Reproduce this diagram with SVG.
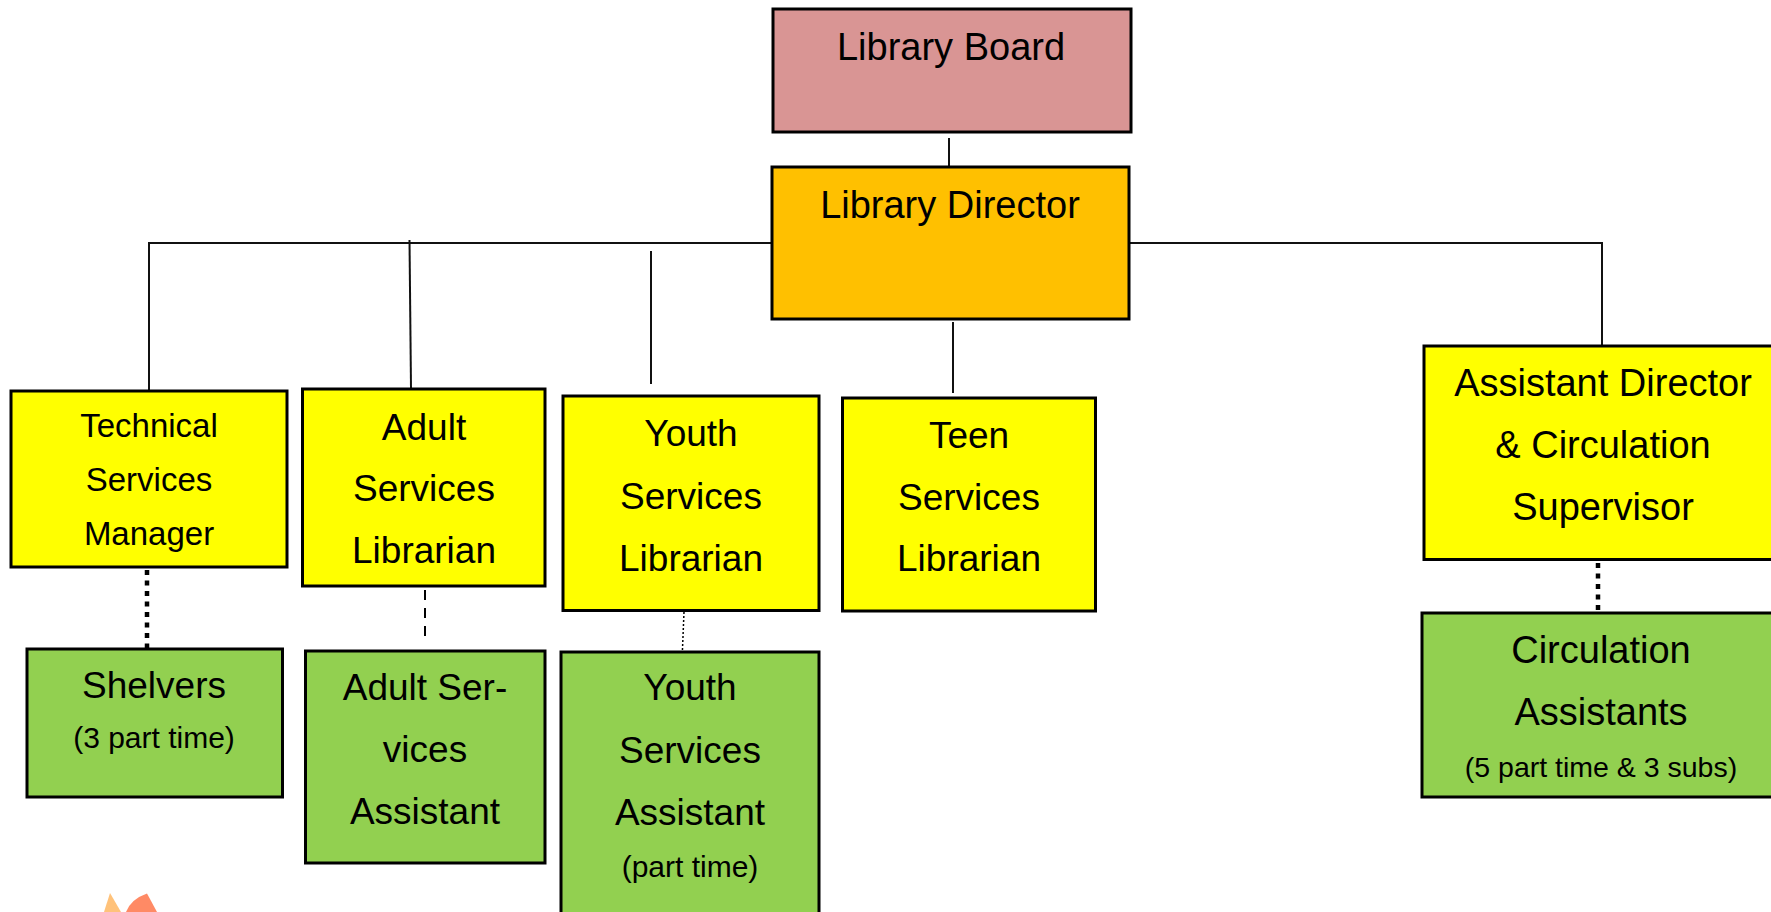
<svg xmlns="http://www.w3.org/2000/svg" width="1771" height="912" viewBox="0 0 1771 912">
<style>
  .box { stroke: #000; stroke-width: 3; }
  .board { fill: #D99594; }
  .dir { fill: #FFC000; }
  .yel { fill: #FFFF00; }
  .grn { fill: #92D050; }
  text { font-family: "Liberation Sans", Arial, sans-serif; fill: #000; text-anchor: middle; }
  .t38 { font-size: 38px; }
  .t37 { font-size: 37px; }
  .t32 { font-size: 33px; }
  .t30 { font-size: 30px; }
  .t27 { font-size: 28.5px; }
  .conn { stroke: #111; stroke-width: 2; fill: none; }
  .dotsq { stroke: #000; stroke-width: 4.5; stroke-dasharray: 5 5.5; fill: none; }
  .dash { stroke: #000; stroke-width: 2; stroke-dasharray: 10 8; fill: none; }
  .fine { stroke: #000; stroke-width: 1.5; stroke-dasharray: 2 2; fill: none; }
</style>
<rect width="1771" height="912" fill="#FFFFFF"/>

<g id="connectors">
  <line class="conn" x1="949" y1="138" x2="949" y2="167"/>
  <polyline class="conn" points="149,390 149,243 771,243"/>
  <polyline class="conn" points="1128,243 1602,243 1602,345"/>
  <line class="conn" x1="409.5" y1="240" x2="411" y2="388"/>
  <line class="conn" x1="651" y1="251" x2="651" y2="384"/>
  <line class="conn" x1="953" y1="322" x2="953" y2="393"/>
  <line class="dotsq" x1="147" y1="570" x2="147" y2="651"/>
  <line class="dash" x1="425" y1="590" x2="425" y2="640"/>
  <line class="fine" x1="684" y1="612" x2="682" y2="661"/>
  <line class="dotsq" x1="1598" y1="563" x2="1598" y2="612"/>
</g>

<g id="library-board">
  <rect class="box board" x="773" y="9" width="358" height="123"/>
  <text class="t38" x="951" y="60">Library Board</text>
</g>

<g id="library-director">
  <rect class="box dir" x="772" y="167" width="357" height="152"/>
  <text class="t38" x="950" y="218">Library Director</text>
</g>

<g id="technical-services-manager">
  <rect class="box yel" x="11" y="391" width="276" height="176"/>
  <text class="t32" x="149" y="437">Technical</text>
  <text class="t32" x="149" y="491">Services</text>
  <text class="t32" x="149" y="545">Manager</text>
</g>

<g id="adult-services-librarian">
  <rect class="box yel" x="302.5" y="389" width="242.5" height="197"/>
  <text class="t37" x="424" y="440">Adult</text>
  <text class="t37" x="424" y="501">Services</text>
  <text class="t37" x="424" y="563">Librarian</text>
</g>

<g id="youth-services-librarian">
  <rect class="box yel" x="563" y="396" width="256" height="214.5"/>
  <text class="t37" x="691" y="446">Youth</text>
  <text class="t37" x="691" y="509">Services</text>
  <text class="t37" x="691" y="571">Librarian</text>
</g>

<g id="teen-services-librarian">
  <rect class="box yel" x="842.5" y="398" width="253" height="213"/>
  <text class="t37" x="969" y="448">Teen</text>
  <text class="t37" x="969" y="510">Services</text>
  <text class="t37" x="969" y="571">Librarian</text>
</g>

<g id="assistant-director">
  <rect class="box yel" x="1424" y="346" width="366" height="213.5"/>
  <text class="t38" x="1603" y="396">Assistant Director</text>
  <text class="t38" x="1603" y="458">&amp; Circulation</text>
  <text class="t38" x="1603" y="520">Supervisor</text>
</g>

<g id="shelvers">
  <rect class="box grn" x="27" y="649" width="255.5" height="148"/>
  <text class="t37" x="154" y="698">Shelvers</text>
  <text class="t30" x="154" y="748">(3 part time)</text>
</g>

<g id="adult-services-assistant">
  <rect class="box grn" x="305.5" y="651" width="239.5" height="212"/>
  <text class="t37" x="425" y="700">Adult Ser-</text>
  <text class="t37" x="425" y="762">vices</text>
  <text class="t37" x="425" y="824">Assistant</text>
</g>

<g id="youth-services-assistant">
  <rect class="box grn" x="561" y="652" width="258" height="280"/>
  <text class="t37" x="690" y="700">Youth</text>
  <text class="t37" x="690" y="763">Services</text>
  <text class="t37" x="690" y="825">Assistant</text>
  <text class="t30" x="690" y="877">(part time)</text>
</g>

<g id="circulation-assistants">
  <rect class="box grn" x="1422" y="613" width="368" height="184"/>
  <text class="t38" x="1601" y="663">Circulation</text>
  <text class="t38" x="1601" y="725">Assistants</text>
  <text class="t27" x="1601" y="777">(5 part time &amp; 3 subs)</text>
</g>

<g id="logo-fragment">
  <path d="M104,912 L110,893 L121,912 Z" fill="#FFC27A"/>
  <path d="M126,912 Q131,899 147,893.5 L157,912 Z" fill="#FF8A65"/>
</g>
</svg>
